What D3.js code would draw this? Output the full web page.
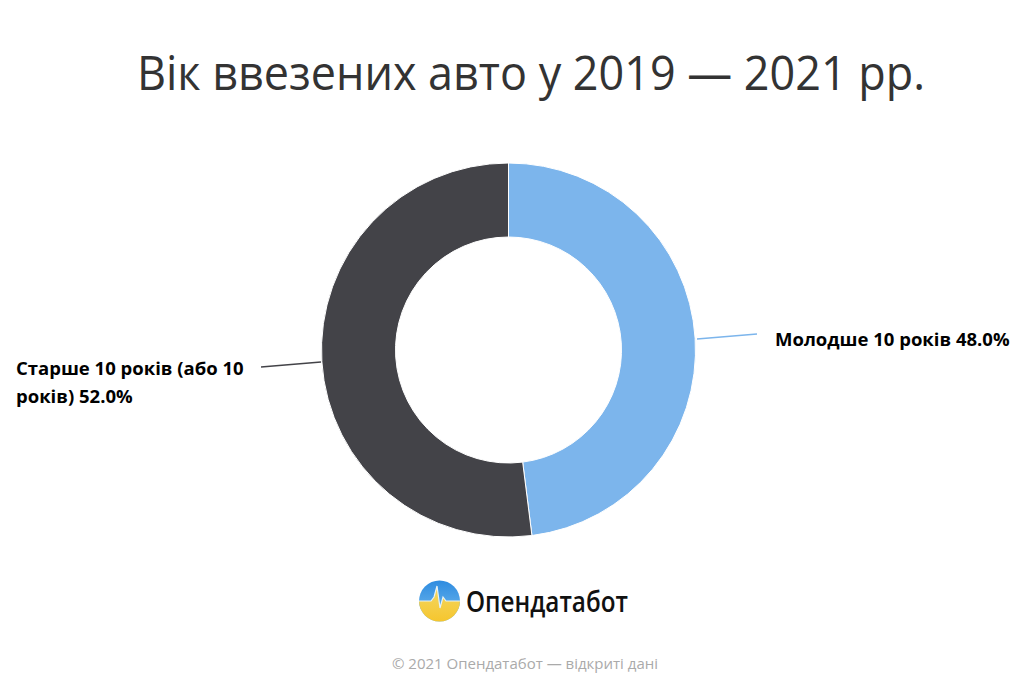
<!DOCTYPE html>
<html><head><meta charset="utf-8">
<script src="https://cdn.jsdelivr.net/npm/d3@7"></script>
<style>
html,body{margin:0;padding:0;background:#fff;}
svg{display:block;}
</style></head>
<body>
<script>
const categories = ["Молодше 10 років", "Старше 10 років (або 10 років)"];
const values = [48.0, 52.0];
const colors = ["#7cb5ec", "#434348"];
const titleText = "Вік ввезених авто у 2019 — 2021 рр.";
const footerText = "© 2021 Опендатабот — відкриті дані";
const brandText = "Опендатабот";

const W = 1024, H = 684;
const svg = d3.select("body").append("svg").attr("width", W).attr("height", H);

svg.append("text").attr("x", 137).attr("y", 90)
  .attr("font-family", "Open Sans, sans-serif").attr("font-size", 47).attr("fill", "#333")
  .attr("textLength", 788).attr("lengthAdjust", "spacingAndGlyphs")
  .text(titleText);

const cx = 508.5, cy = 350, R = 187, r = 113;
const pie = d3.pie().sort(null).value(d => d.v);
const arcs = pie(categories.map((c, i) => ({c, v: values[i], col: colors[i]})));
const arc = d3.arc().innerRadius(r).outerRadius(R);
const g = svg.append("g").attr("transform", `translate(${cx},${cy})`);
g.selectAll("path").data(arcs).enter().append("path")
  .attr("d", arc).attr("fill", d => d.data.col).attr("stroke", "#fff").attr("stroke-width", 1);

const labelPos = [
  {lines: [categories[0] + " " + values[0].toFixed(1) + "%"], x: 775, y: 346, conn: [[697, 339], [757, 334]]},
  {lines: ["Старше 10 років (або 10", "років) " + values[1].toFixed(1) + "%"], x: 16, y: 375, conn: [[321, 362], [261, 367]]}
];
labelPos.forEach((l, i) => {
  svg.append("path").attr("d", d3.line()(l.conn)).attr("stroke", colors[i]).attr("stroke-width", 1.3).attr("fill", "none");
  l.lines.forEach((s, j) => svg.append("text").attr("x", l.x).attr("y", l.y + j * 28)
    .attr("font-family", "Open Sans, sans-serif").attr("font-weight", "bold").attr("font-size", 18.5).attr("fill", "#000")
    .text(s));
});

// logo
const defs = svg.append("defs");
defs.append("clipPath").attr("id", "lc").append("circle").attr("cx", 439.5).attr("cy", 601).attr("r", 20.5);
const gb = defs.append("linearGradient").attr("id", "gb").attr("x1", 0).attr("y1", 0).attr("x2", 0).attr("y2", 1);
gb.append("stop").attr("offset", "0%").attr("stop-color", "#2d8be0");
gb.append("stop").attr("offset", "100%").attr("stop-color", "#7cc0ef");
const gy = defs.append("linearGradient").attr("id", "gy").attr("x1", 0).attr("y1", 0).attr("x2", 0).attr("y2", 1);
gy.append("stop").attr("offset", "0%").attr("stop-color", "#f3d766");
gy.append("stop").attr("offset", "100%").attr("stop-color", "#f6c52a");
const lg = svg.append("g").attr("clip-path", "url(#lc)");
lg.append("rect").attr("x", 418).attr("y", 580).attr("width", 44).attr("height", 44).attr("fill", "url(#gb)");
const pulse = "M418,601 L431,601 L434,597 L437,586 L440,608 L443,597 L446,601 L462,601";
lg.append("path").attr("d", pulse + " L462,624 L418,624 Z").attr("fill", "url(#gy)");
lg.append("path").attr("d", pulse).attr("stroke", "#e6f2f8").attr("stroke-width", 1.2).attr("fill", "none");
svg.append("text").attr("x", 466).attr("y", 612).attr("font-family", "Open Sans, sans-serif")
  .attr("font-weight", 600).attr("font-size", 28).attr("fill", "#111")
  .attr("textLength", 162).attr("lengthAdjust", "spacingAndGlyphs").text(brandText);

svg.append("text").attr("x", 525).attr("y", 669).attr("text-anchor", "middle")
  .attr("font-family", "Open Sans, sans-serif").attr("font-size", 15).attr("fill", "#aaa")
  .text(footerText);
</script>
</body></html>
